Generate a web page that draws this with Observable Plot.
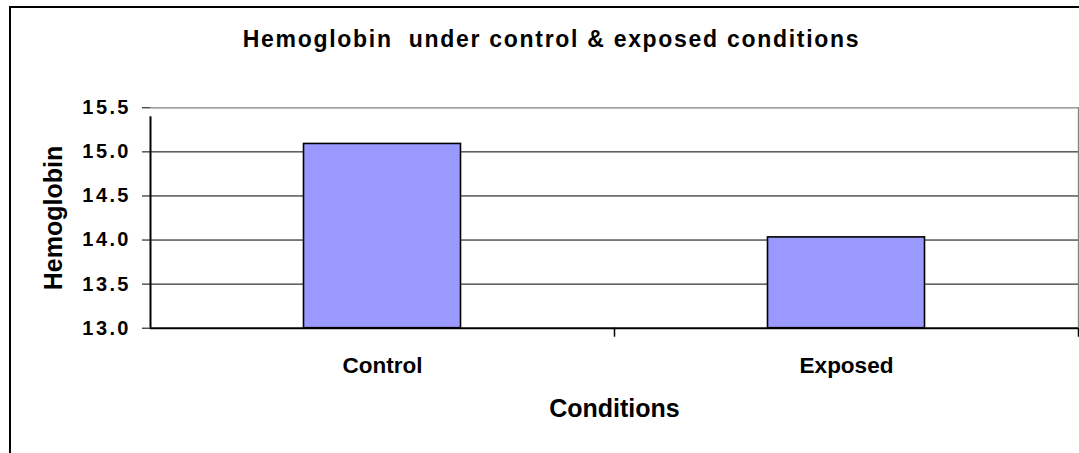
<!DOCTYPE html>
<html>
<head>
<meta charset="utf-8">
<script src="https://cdn.jsdelivr.net/npm/d3@7"></script>
<script src="https://cdn.jsdelivr.net/npm/@observablehq/plot@0.6"></script>
<style>
  html, body { margin: 0; padding: 0; background: #fff; overflow: hidden; }
  #wrap { position: relative; width: 1079px; height: 453px; overflow: hidden; font-family: "Liberation Sans", Arial, sans-serif; background: #fff; }
  #frame { position: absolute; left: 9px; top: 6px; width: 1200px; height: 600px; border: 2px solid #000; box-sizing: border-box; pointer-events: none; z-index: 2; }
  #title { position: relative; height: 80px; width: 1079px; padding-left: 24px; box-sizing: border-box; text-align: center; font-weight: bold; font-size: 23px; line-height: 79px; letter-spacing: 1.7px; color: #000; white-space: pre; }
  #chart { position: relative; }
  #chart svg { display: block; }
</style>
</head>
<body>
<div id="wrap">
  <div id="frame"></div>
  <div id="title">Hemoglobin  under control &amp; exposed conditions</div>
  <div id="chart"></div>
</div>
<script>
const categories = ["Control", "Exposed"];
const hemoglobin = [15.09, 14.03];
const yTicks = [13.0, 13.5, 14.0, 14.5, 15.0, 15.5];
const xTitle = "Conditions";
const yTitle = "Hemoglobin";

const data = categories.map((c, i) => ({cat: c, value: hemoglobin[i]}));
const yMin = yTicks[0], yMax = yTicks[yTicks.length - 1];
const grid = yTicks.slice(1, -1);
const W = 1079, H = 373;
const mL = 150, mR = 1, mT = 27.3, mB = 125.3;
const half = (W - mL - mR) / categories.length / 2;
const font = "Liberation Sans, Arial, sans-serif";
const fmt = d3.format(".1f");
const tickSpacing = 2.4;

const chart = Plot.plot({
  width: W, height: H,
  marginLeft: mL, marginRight: mR, marginTop: mT, marginBottom: mB,
  style: {fontFamily: font, fontWeight: "bold", color: "#000", background: "transparent", overflow: "visible"},
  x: {type: "band", domain: categories, padding: 0},
  y: {domain: [yMin, yMax]},
  marks: [
    Plot.ruleY(grid, {stroke: "#000", strokeWidth: 1}),
    Plot.ruleY([yMax], {stroke: "#808080", strokeWidth: 1.3}),
    Plot.barY(data, {x: "cat", y1: yMin, y2: "value", fill: "#9999FF", stroke: "#000", strokeWidth: 1.6, insetLeft: 153.5, insetRight: 153.5}),
    // plot-area right border (gray)
    Plot.ruleX([categories[categories.length - 1]], {x: d => d, y1: yMin, y2: yMax, dx: half, stroke: "#808080", strokeWidth: 1.3}),
    // category tick marks at band boundaries
    Plot.ruleX(categories, {x: d => d, y1: yMin, y2: yMin, dx: half, insetBottom: -9, stroke: "#000", strokeWidth: 1.5}),
    // value axis line
    Plot.ruleX([categories[0]], {x: d => d, y1: yMin, y2: yMax, dx: -half, insetBottom: -9, stroke: "#000", strokeWidth: 2}),
    Plot.ruleY([yMin], {stroke: "#000", strokeWidth: 2}),
    Plot.axisY({ticks: yTicks, tickFormat: () => "", tickSize: 8, label: null}),
    Plot.text(yTicks, {y: d => d, text: d => fmt(d), frameAnchor: "left", textAnchor: "end", lineAnchor: "middle", dx: -22 + tickSpacing, fontSize: 20, fontWeight: "bold", fill: "#000"}),
    Plot.axisX({tickSize: 0, tickPadding: 29, fontSize: 22.5, label: null}),
    Plot.text([yTitle], {frameAnchor: "left", textAnchor: "middle", lineAnchor: "middle", dx: -97, rotate: -90, fontSize: 25, fontWeight: "bold", fill: "#000"}),
    Plot.text([xTitle], {frameAnchor: "bottom", textAnchor: "middle", lineAnchor: "middle", dy: 81, fontSize: 25, fontWeight: "bold", fill: "#000"})
  ]
});
const tickLabels = new Set(yTicks.map(fmt));
d3.select(chart).selectAll("text").filter(function () { return tickLabels.has(this.textContent); })
  .style("letter-spacing", tickSpacing + "px");
document.getElementById("chart").appendChild(chart);
</script>
</body>
</html>
